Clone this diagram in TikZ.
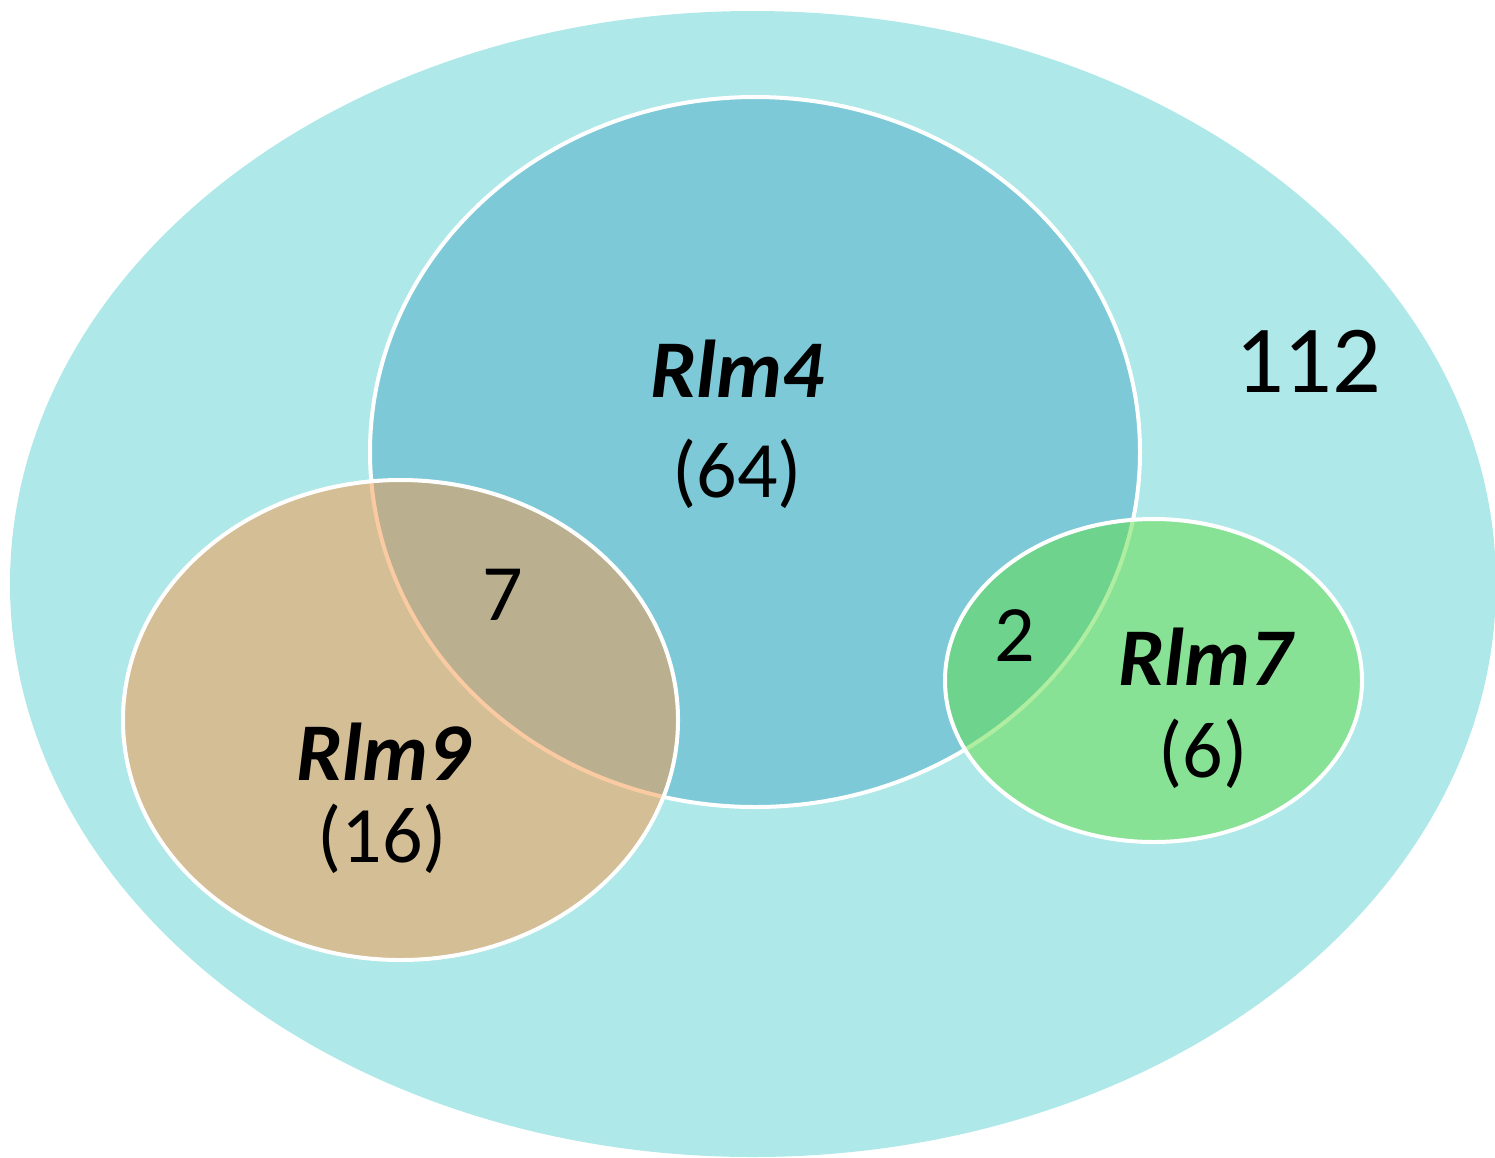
\documentclass[tikz,border=0pt]{standalone}
\usepackage{fontspec}
\setmainfont{Carlito}
\definecolor{outerc}{RGB}{175,232,232}
\definecolor{rlmfour}{RGB}{125,201,215}
\definecolor{rlmnine}{RGB}{247,150,70}
\definecolor{rlmseven}{RGB}{97,222,68}
\tikzset{
  setline/.style={draw=white, line width=4pt},
  lbl/.style={anchor=base, inner sep=0pt, font=\fontsize{82}{98}\selectfont\bfseries\itshape},
  cnt/.style={anchor=base, inner sep=0pt, font=\fontsize{80}{96}\selectfont},
  big/.style={anchor=base, inner sep=0pt, font=\fontsize{96}{115}\selectfont}
}
\begin{document}
\begin{tikzpicture}[x=1pt,y=-1pt]
\useasboundingbox (0,0) rectangle (1495,1157);
\clip (0,0) rectangle (1495,1157);
\fill[outerc] (753,584) ellipse [x radius=743pt, y radius=573pt];
\path[fill=rlmfour, setline] (755,452) ellipse [x radius=385pt, y radius=355pt];
\fill[rlmnine, fill opacity=0.5] (400.5,720) ellipse [x radius=277.5pt, y radius=240pt];
\draw[setline] (400.5,720) ellipse [x radius=277.5pt, y radius=240pt];
\fill[rlmseven, fill opacity=0.5] (1153.5,680.5) ellipse [x radius=208.5pt, y radius=161.5pt];
\draw[setline] (1153.5,680.5) ellipse [x radius=208.5pt, y radius=161.5pt];
\node[lbl] (l4) at (737,397) {Rlm4};
\node[cnt] (c4) at (737,497) {(64)};
\node[big] (tot) at (1308,392) {112};
\node[cnt] (c49) at (503,620) {7};
\node[lbl] (l9) at (383,780) {Rlm9};
\node[cnt] (c9) at (382,862) {(16)};
\node[cnt] (c47) at (1015,661) {2};
\node[lbl] (l7) at (1205,685) {Rlm7};
\node[cnt] (c7) at (1203,777) {(6)};
\end{tikzpicture}
\end{document}
